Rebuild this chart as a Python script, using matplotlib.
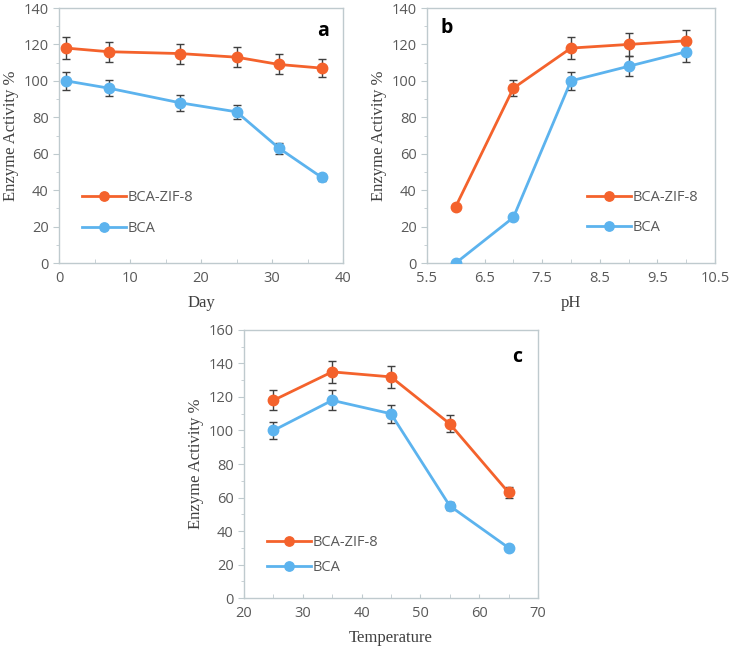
import matplotlib
matplotlib.use('Agg')
import matplotlib.pyplot as plt
from matplotlib.ticker import MultipleLocator

# panel a: storage stability
day = [1, 7, 17, 25, 31, 37]
zif_day = [118, 116, 115, 113, 109, 107]
zif_day_err = [6, 5.5, 5.5, 5.5, 5.5, 5]
bca_day = [100, 96, 88, 83, 63, 47]
bca_day_err = [5, 4.5, 4.5, 4, 3, 2]

# panel b: pH
ph = [6, 7, 8, 9, 10]
zif_ph = [31, 96, 118, 120, 122]
zif_ph_err = [1, 4.5, 6, 6.5, 6]
bca_ph = [0, 25, 100, 108, 116]
bca_ph_err = [0.5, 1, 5, 5.5, 5.5]

# panel c: temperature
temp = [25, 35, 45, 55, 65]
zif_temp = [118, 135, 132, 104, 63]
zif_temp_err = [6, 6.5, 6.5, 5, 3]
bca_temp = [100, 118, 110, 55, 30]
bca_temp_err = [5, 6, 5.5, 2.5, 1.5]

ORANGE = '#F4622C'
BLUE = '#5CB3EE'
SPINE = '#BFCACE'
TICKC = '#595959'

fig = plt.figure(figsize=(7.32, 6.51), dpi=100)
ax_a = fig.add_axes([0.0806, 0.596, 0.388, 0.3917])
ax_b = fig.add_axes([0.5833, 0.596, 0.3934, 0.3917])
ax_c = fig.add_axes([0.3333, 0.0814, 0.4016, 0.4117])


def draw(ax, x, zif, zif_err, bca, bca_err, xlim, xmajor, ymax, ymajor,
         xlabel, letter, letter_pos, leg_pos, leg_gap):
    for y, e, c, lab in [(zif, zif_err, ORANGE, 'BCA-ZIF-8'), (bca, bca_err, BLUE, 'BCA')]:
        ax.errorbar(x, y, yerr=e, fmt='none', ecolor='#404040', elinewidth=1,
                    capsize=3, capthick=1, zorder=2)
        ax.plot(x, y, '-o', color=c, lw=2, ms=7.5, label=lab, zorder=3)
    ax.set_xlim(*xlim)
    ax.set_ylim(0, ymax)
    ax.xaxis.set_major_locator(MultipleLocator(xmajor))
    ax.xaxis.set_minor_locator(MultipleLocator(xmajor / 2))
    ax.yaxis.set_major_locator(MultipleLocator(ymajor))
    ax.yaxis.set_minor_locator(MultipleLocator(ymajor / 2))
    for s in ax.spines.values():
        s.set_color(SPINE)
        s.set_linewidth(1)
    ax.tick_params(axis='y', which='both', direction='out', color=SPINE,
                   labelcolor=TICKC, labelsize=10.5, length=4)
    ax.tick_params(axis='y', which='minor', length=2.5)
    ax.tick_params(axis='x', which='both', direction='in', color=SPINE,
                   labelcolor=TICKC, labelsize=10.5, length=3, pad=6)
    for t in ax.get_xticklabels() + ax.get_yticklabels():
        t.set_fontfamily('Open Sans')
    ax.set_xlabel(xlabel, fontfamily='Liberation Serif', fontsize=12, color='#404040', labelpad=6)
    ax.set_ylabel('Enzyme Activity %', fontfamily='Liberation Serif', fontsize=12,
                  color='#404040', labelpad=3)
    ax.text(letter_pos[0], letter_pos[1], letter, transform=ax.transAxes,
            fontfamily='Open Sans', fontweight='bold', fontsize=14, ha='center', va='center')
    leg = ax.legend(loc='center left', bbox_to_anchor=leg_pos, frameon=False,
                    handlelength=3, handletextpad=0.15, labelspacing=leg_gap,
                    borderpad=0, borderaxespad=0, markerscale=0.9,
                    prop={'family': 'Open Sans', 'size': 10.5})
    for t in leg.get_texts():
        t.set_color(TICKC)


draw(ax_a, day, zif_day, zif_day_err, bca_day, bca_day_err, (0, 40), 10, 140, 20,
     'Day', 'a', (0.93, 0.91), (0.081, 0.196), 1.1)
draw(ax_b, ph, zif_ph, zif_ph_err, bca_ph, bca_ph_err, (5.5, 10.5), 1, 140, 20,
     'pH', 'b', (0.07, 0.92), (0.556, 0.198), 1.05)
ax_b.set_xticks([5.5, 6.5, 7.5, 8.5, 9.5, 10.5])
ax_b.xaxis.set_minor_locator(MultipleLocator(0.5))
for t in ax_b.get_xticklabels():
    t.set_fontfamily('Open Sans')
draw(ax_c, temp, zif_temp, zif_temp_err, bca_temp, bca_temp_err, (20, 70), 10, 160, 20,
     'Temperature', 'c', (0.93, 0.90), (0.078, 0.16), 0.7)

fig.savefig('out.png', dpi=100)
